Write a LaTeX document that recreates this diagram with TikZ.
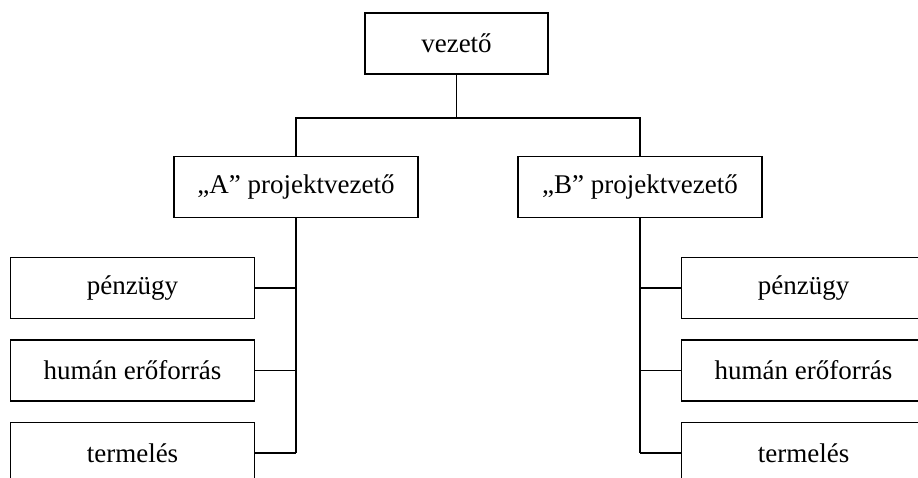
\documentclass[tikz,border=0pt]{standalone}
\usepackage{fontspec}
\setmainfont{Liberation Serif}
\usetikzlibrary{positioning}

\begin{document}
\begin{tikzpicture}[
  x=1pt, y=-1pt,
  font=\fontsize{27}{31}\selectfont,
  unit/.style={draw, line width=1.5pt, inner sep=0pt, align=center,
    minimum width=244pt, minimum height=61pt},
  chief/.style={unit, minimum width=183pt},
  link/.style={line width=1.5pt}
]
\useasboundingbox (0,0) rectangle (918,478);
\clip (0,0) rectangle (918,478);
\node[chief] (vezeto) at (456.5,43.5) {vezető};
\node[unit] (pva) at (296,187) {„A” projektvezető};
\node[unit] (pvb) at (640,187) {„B” projektvezető};
\node[unit] (apenz) at (132.5,288) {pénzügy};
\node[unit, below=20pt of apenz] (ahum) {humán erőforrás};
\node[unit, below=20pt of ahum] (aterm) {termelés};
\node[unit] (bpenz) at (803.5,288) {pénzügy};
\node[unit, below=20pt of bpenz] (bhum) {humán erőforrás};
\node[unit, below=20pt of bhum] (bterm) {termelés};
\coordinate (agaz) at (vezeto.south |- 0,118);
\draw[link] (vezeto.south) -- (agaz);
\draw[link] (agaz) -| (pva.north);
\draw[link] (agaz) -| (pvb.north);
\draw[link] (pva.south) -- (pva.south |- aterm.east);
\draw[link] (pvb.south) -- (pvb.south |- bterm.west);
\foreach \n in {apenz,ahum,aterm}
  \draw[link] (\n.east) -- (pva.south |- \n.east);
\foreach \n in {bpenz,bhum,bterm}
  \draw[link] (\n.west) -- (pvb.south |- \n.west);
\end{tikzpicture}
\end{document}
